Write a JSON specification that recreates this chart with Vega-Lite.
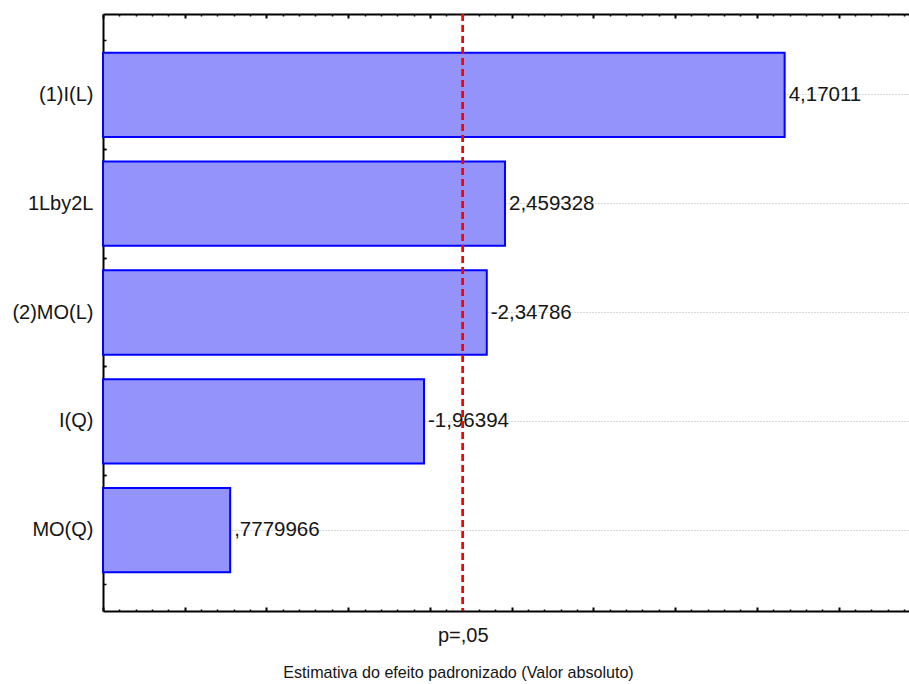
{
  "$schema": "https://vega.github.io/schema/vega-lite/v6.json",
  "width": 806,
  "height": 597,
  "autosize": {"type": "none"},
  "padding": {"left": 103, "top": 14, "right": 0, "bottom": 73},
  "background": "white",
  "config": {
    "view": {"stroke": null},
    "font": "Liberation Sans",
    "axis": {"labelFont": "Liberation Sans", "titleFont": "Liberation Sans", "labelColor": "#151515", "titleColor": "#151515", "tickColor": "#000000", "domainColor": "#000000"}
  },
  "data": {
    "values": [
      {"term": "(1)I(L)", "t": 4.17011, "label": "4,17011"},
      {"term": "1Lby2L", "t": 2.459328, "label": "2,459328"},
      {"term": "(2)MO(L)", "t": 2.34786, "label": "-2,34786"},
      {"term": "I(Q)", "t": 1.96394, "label": "-1,96394"},
      {"term": "MO(Q)", "t": 0.7779966, "label": ",7779966"}
    ]
  },
  "resolve": {"axis": {"x": "independent", "y": "independent"}},
  "layer": [
    {
      "mark": {"type": "bar", "height": {"band": 0.775}, "fill": "#9393fb", "stroke": "#0000ff", "strokeWidth": 2},
      "encoding": {
        "x": {
          "field": "t", "type": "quantitative",
          "scale": {"domain": [0, 4.931], "nice": false, "zero": true},
          "axis": {
            "orient": "bottom", "values": [0, 0.5, 1, 1.5, 2, 2.5, 3, 3.5, 4, 4.5],
            "labels": false, "grid": false, "domain": true, "domainWidth": 2,
            "tickSize": -4, "tickWidth": 2,
            "title": "Estimativa do efeito padronizado (Valor absoluto)",
            "titleFontSize": 16.1, "titleFontWeight": "normal",
            "titleX": 355, "titleY": 66, "titleAlign": "center", "titleBaseline": "alphabetic"
          }
        },
        "y": {
          "field": "term", "type": "nominal", "sort": null,
          "scale": {"type": "band", "paddingInner": 0, "paddingOuter": 0.2425},
          "axis": {
            "orient": "left", "title": null, "labelFontSize": 20, "labelPadding": 14,
            "domain": true, "domainWidth": 2, "tickSize": -4, "tickWidth": 1.5,
            "grid": true, "gridDash": [1, 2], "gridColor": "#b4b4b4", "gridWidth": 1
          }
        }
      }
    },
    {
      "mark": {"type": "text", "align": "left", "baseline": "middle", "dx": 4, "fontSize": 20.5, "color": "#151515"},
      "encoding": {
        "x": {
          "field": "t", "type": "quantitative",
          "axis": {
            "orient": "bottom",
            "values": [0.1, 0.2, 0.3, 0.4, 0.6, 0.7, 0.8, 0.9, 1.1, 1.2, 1.3, 1.4, 1.6, 1.7, 1.8, 1.9, 2.1, 2.2, 2.3, 2.4, 2.6, 2.7, 2.8, 2.9, 3.1, 3.2, 3.3, 3.4, 3.6, 3.7, 3.8, 3.9, 4.1, 4.2, 4.3, 4.4, 4.6, 4.7, 4.8, 4.9],
            "labels": false, "grid": false, "domain": false, "tickSize": -2, "tickWidth": 1.5, "title": null
          }
        },
        "y": {
          "field": "term", "type": "nominal", "sort": null,
          "axis": {"orient": "left", "bandPosition": 0.25, "labels": false, "grid": false, "domain": false, "tickSize": -3, "tickWidth": 1.5, "title": null}
        },
        "text": {"field": "label", "type": "nominal"}
      }
    },
    {
      "mark": {"type": "rule", "color": "#ff0000", "strokeDash": [7, 4], "strokeWidth": 2},
      "encoding": {
        "x": {
          "datum": 2.201, "type": "quantitative",
          "axis": {
            "orient": "bottom", "values": [2.201], "labelExpr": "'p=,05'",
            "labelFontSize": 20, "labelPadding": 14, "ticks": false, "domain": false, "grid": false, "title": null
          }
        }
      }
    },
    {
      "mark": {"type": "bar", "height": {"band": 0.775}, "opacity": 0},
      "encoding": {
        "x": {
          "field": "t", "type": "quantitative",
          "axis": {
            "orient": "top", "values": [0, 0.5, 1, 1.5, 2, 2.5, 3, 3.5, 4, 4.5],
            "labels": false, "grid": false, "domain": true, "domainWidth": 2,
            "tickSize": -4, "tickWidth": 2, "title": null
          }
        },
        "y": {
          "field": "term", "type": "nominal", "sort": null,
          "axis": {"orient": "left", "bandPosition": 0.75, "labels": false, "grid": false, "domain": false, "tickSize": -3, "tickWidth": 1.5, "title": null}
        }
      }
    },
    {
      "mark": {"type": "bar", "height": {"band": 0.775}, "opacity": 0},
      "encoding": {
        "x": {
          "field": "t", "type": "quantitative",
          "axis": {
            "orient": "top",
            "values": [0.1, 0.2, 0.3, 0.4, 0.6, 0.7, 0.8, 0.9, 1.1, 1.2, 1.3, 1.4, 1.6, 1.7, 1.8, 1.9, 2.1, 2.2, 2.3, 2.4, 2.6, 2.7, 2.8, 2.9, 3.1, 3.2, 3.3, 3.4, 3.6, 3.7, 3.8, 3.9, 4.1, 4.2, 4.3, 4.4, 4.6, 4.7, 4.8, 4.9],
            "labels": false, "grid": false, "domain": false, "tickSize": -2, "tickWidth": 1.5, "title": null
          }
        },
        "y": {
          "field": "term", "type": "nominal", "sort": null,
          "axis": {"orient": "left", "bandPosition": 0, "labels": false, "grid": false, "domain": false, "tickSize": -3, "tickWidth": 1.5, "title": null}
        }
      }
    },
    {
      "mark": {"type": "bar", "height": {"band": 0.775}, "opacity": 0},
      "encoding": {
        "x": {"field": "t", "type": "quantitative", "axis": null},
        "y": {
          "field": "term", "type": "nominal", "sort": null,
          "axis": {"orient": "left", "bandPosition": 1, "labels": false, "grid": false, "domain": false, "tickSize": -3, "tickWidth": 1.5, "title": null}
        }
      }
    }
  ]
}
